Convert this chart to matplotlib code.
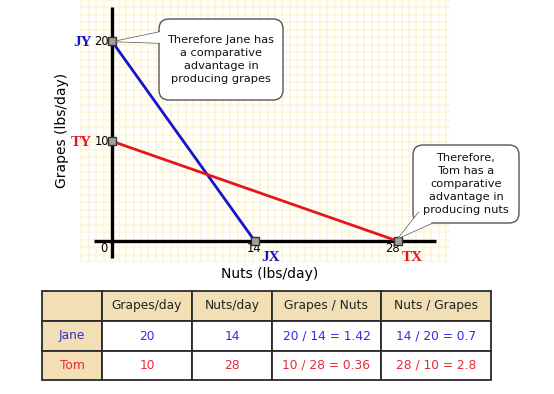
import numpy as np
import matplotlib
matplotlib.use("Agg")
import matplotlib.pyplot as plt
from matplotlib.patches import FancyBboxPatch, Polygon, Rectangle

# ---- data ----
jane_nuts = [0, 14]
jane_grapes = [20, 0]
tom_nuts = [0, 28]
tom_grapes = [10, 0]
x_ticks = [0, 14, 28]
y_ticks = [20, 10]

col_headers = ["", "Grapes/day", "Nuts/day", "Grapes / Nuts", "Nuts / Grapes"]
row_names = ["Jane", "Tom"]
grapes_day = [20, 10]
nuts_day = [14, 28]
g_over_n = ["20 / 14 = 1.42", "10 / 28 = 0.36"]
n_over_g = ["14 / 20 = 0.7", "28 / 10 = 2.8"]

BLUE = "#1414cc"
RED = "#e8141c"
TBLUE = "#2e2ee0"
TRED = "#e52b36"
TAN = "#f2dfb5"

W, H = 554, 394
fig = plt.figure(figsize=(W / 100, H / 100), dpi=100)

def fpos(x0, y0, x1, y1):
    return [x0 / W, 1 - y1 / H, (x1 - x0) / W, (y1 - y0) / H]

# chart axes: grid region px x 80..450, y 0..262
ax = fig.add_axes(fpos(80, 0, 450, 262))
sx = 10.2
ax.set_xlim((80 - 112) / sx, (450 - 112) / sx)
ax.set_ylim((241 - 262) / 10.0, 241 / 10.0)
for s in ax.spines.values():
    s.set_visible(False)
ax.set_xticks(np.arange(-3.0, 33.5, 0.73), labels=[])
ax.set_yticks(np.arange(-2.1, 24.2, 0.75), labels=[])
ax.tick_params(length=0)
ax.grid(True, color="#fdf5d4", lw=1.1)
ax.set_axisbelow(True)

# axes lines
ax.plot([(94 - 112) / sx, (436 - 112) / sx], [0, 0], color="black", lw=2.4, zorder=3, solid_capstyle="butt")
ax.plot([0, 0], [(241 - 258) / 10, (241 - 7) / 10], color="black", lw=2.4, zorder=3, solid_capstyle="butt")

ax.plot(jane_nuts, jane_grapes, color=BLUE, lw=2, zorder=4)
ax.plot(tom_nuts, tom_grapes, color=RED, lw=2, zorder=4)
ax.plot([0, 0, 14, 28], [20, 10, 0, 0], ls="none", marker="s", ms=5.5,
        mfc="#a0a0a0", mec="#333333", mew=1, zorder=5)

# tick labels
ax.text(-0.3, 20, str(y_ticks[0]), ha="right", va="center", fontsize=8.3, zorder=6)
ax.text(-0.3, 10, str(y_ticks[1]), ha="right", va="center", fontsize=8.3, zorder=6)
ax.text(-0.8, -0.75, str(x_ticks[0]), ha="center", va="center", fontsize=8.3)
ax.text(13.9, -0.75, str(x_ticks[1]), ha="center", va="center", fontsize=8.3)
ax.text(27.5, -0.75, str(x_ticks[2]), ha="center", va="center", fontsize=8.3)

serif = dict(family="Liberation Serif", fontweight="bold", fontsize=11)
ax.text(-2.0, 19.9, "JY", color=BLUE, ha="right", va="center", **serif)
ax.text(-2.0, 9.9, "TY", color=RED, ha="right", va="center", **serif)
ax.text(15.6, -1.6, "JX", color=BLUE, ha="center", va="center", **serif)
ax.text(29.4, -1.6, "TX", color=RED, ha="center", va="center", **serif)

fig.text(62 / W, 1 - 130 / H, "Grapes (lbs/day)", rotation=90, ha="center", va="center", fontsize=10)
fig.text(270 / W, 1 - 274 / H, "Nuts (lbs/day)", ha="center", va="center", fontsize=10)

# overlay in pixel coords
ov = fig.add_axes([0, 0, 1, 1], zorder=10)
ov.set_xlim(0, W)
ov.set_ylim(H, 0)
ov.axis("off")
ov.patch.set_alpha(0)

def to_px(x, y):
    d = ax.transData.transform((x, y))
    return ov.transData.inverted().transform(d)

def callout(x0, y0, x1, y1, tip, base, text, fs):
    box = FancyBboxPatch((x0, y0), x1 - x0, y1 - y0,
                         boxstyle="round,pad=0,rounding_size=10",
                         fc="white", ec="#555555", lw=1)
    ov.add_patch(box)
    tail = Polygon([base[0], tip, base[1]], closed=False, fc="white", ec="#555555", lw=1)
    ov.add_patch(tail)
    ov.add_patch(Polygon([base[0], tip, base[1]], closed=True, fc="white", ec="none"))
    ov.text((x0 + x1) / 2, (y0 + y1) / 2, text, ha="center", va="center",
            fontsize=fs, linespacing=1.4, color="#111111")

tipJ = to_px(0, 20)
callout(159, 19, 283, 100, (tipJ[0] + 3, tipJ[1]), [(160, 32), (160, 43)],
        "Therefore Jane has\na comparative\nadvantage in\nproducing grapes", 8.2)
tipT = to_px(28, 0)
callout(413, 145, 519, 223, (tipT[0] + 1, tipT[1] - 3), [(419, 212), (432, 223)],
        "Therefore,\nTom has a\ncomparative\nadvantage in\nproducing nuts", 8.2)

# table
cols = [42, 102, 192, 272, 381, 491]
rows = [291, 321, 351, 380]
for i in range(5):
    for j in range(3):
        tan = (j == 0) or (i == 0)
        ov.add_patch(Rectangle((cols[i], rows[j]), cols[i + 1] - cols[i], rows[j + 1] - rows[j],
                               fc=TAN if tan else "white", ec="#2a2a2a", lw=1.3))
for i, h in enumerate(col_headers):
    if h:
        ov.text((cols[i] + cols[i + 1]) / 2, (rows[0] + rows[1]) / 2, h,
                ha="center", va="center", fontsize=8.8, color="#222222")
for r, name in enumerate(row_names):
    c = TBLUE if r == 0 else TRED
    yc = (rows[r + 1] + rows[r + 2]) / 2
    vals = [name, str(grapes_day[r]), str(nuts_day[r]), g_over_n[r], n_over_g[r]]
    for i, v in enumerate(vals):
        ov.text((cols[i] + cols[i + 1]) / 2, yc, v, ha="center", va="center",
                fontsize=8.8, color=c)

fig.savefig("out.png", dpi=100)
